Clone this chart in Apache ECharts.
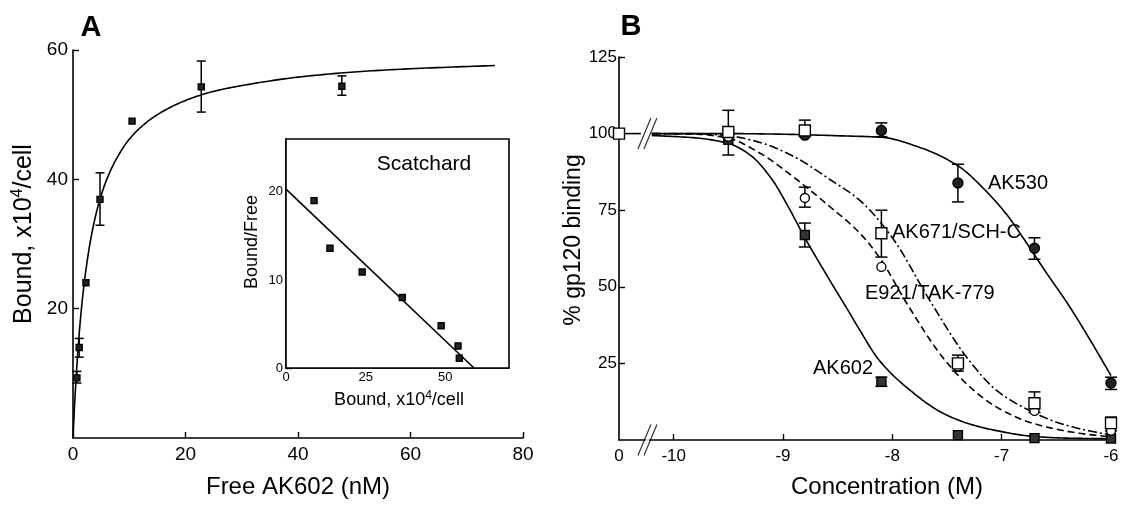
<!DOCTYPE html>
<html><head><meta charset="utf-8">
<script src="https://cdn.jsdelivr.net/npm/echarts@6/dist/echarts.min.js"></script>
<style>html,body{margin:0;padding:0;background:#fff}#c{width:1122px;height:505px}</style>
</head><body><div id="c"></div>
<script>
// ---------- Panel A: saturation binding ----------
const freeA      = [0.7, 1.1, 2.3, 4.8, 10.5, 22.8, 47.8];
const boundA     = [9.3, 14.0, 24.0, 36.9, 49.0, 54.3, 54.4];
const boundA_lo  = [8.5, 12.5, null, 32.9, null, 50.4, 53.0];
const boundA_hi  = [10.3, 15.4, null, 41.0, null, 58.3, 56.0];
const fitFreeA   = [0, 0.25, 0.5, 1, 1.5, 2, 3, 4, 5, 6, 8, 10, 12.5, 15, 20, 25, 30, 40, 50, 60, 75];
const fitBoundA  = [0, 4.6, 8.5, 15, 20, 24, 30, 34.3, 37.5, 40, 43.6, 46.2, 48.4, 50, 52.2, 53.6, 54.5, 55.8, 56.6, 57.1, 57.6];
const ticksAx    = [0, 20, 40, 60, 80];
const ticksAy    = [20, 40, 60];

// ---------- Inset: Scatchard ----------
const scatBound  = [8.8, 13.8, 23.9, 36.5, 48.7, 54.0, 54.4];
const scatRatio  = [19.0, 13.6, 10.9, 8.0, 4.8, 2.5, 1.1];
const scatLineX  = [0, 59];
const scatLineY  = [20.3, 0];
const ticksSx    = [0, 25, 50];
const ticksSy    = [0, 10, 20];

// ---------- Panel B: competition (log M; -10.5 = "0" control) ----------
const logConc    = [-10.5, -9.5, -8.8, -8.1, -7.4, -6.7, -6.0];
const ak602      = [100, 98, 66.9, 19.0, 1.6, 0.6, 0.5];
const ak602_lo   = [null, null, 63.0, 17.5, null, null, null];
const ak602_hi   = [null, null, 70.8, 20.5, null, null, null];
const ak530      = [null, 99, 99.5, 101, 83.9, 62.6, 18.6];
const ak530_lo   = [null, null, null, 99.0, 77.7, 59.0, 16.5];
const ak530_hi   = [null, null, null, 103.5, 90.0, 66.0, 20.5];
const ak671      = [100, 100.5, 101, 67.5, 25.0, 12.0, 5.5];
const ak671_lo   = [null, 93.0, 99.0, 59.7, 22.5, 9.0, 3.0];
const ak671_hi   = [null, 107.6, 104.4, 75.0, 27.7, 15.7, 7.5];
const e921       = [null, 99, 79.0, 56.5, 24.0, 9.5, 3.0];
const e921_lo    = [null, null, 76.0, null, null, null, null];
const e921_hi    = [null, null, 82.5, null, null, null, null];

const fit602X = [-10.2, -9.8, -9.5, -9.3, -9.1, -8.95, -8.8, -8.57, -8.4, -8.3, -8.12, -7.84, -7.54, -7.3, -7.08, -6.72, -6.4, -6.0];
const fit602Y = [99.4, 98.6, 96.8, 93, 85, 76, 66, 52, 42, 36, 26, 16.3, 8.8, 5.3, 3.3, 1.2, 0.6, 0.4];
const fit530X = [-10.2, -9.5, -9.0, -8.5, -8.1, -7.75, -7.4, -7.15, -6.95, -6.81, -6.59, -6.4, -6.19, -6.0];
const fit530Y = [100, 100, 99.8, 99.3, 98.8, 95.5, 89.5, 81.5, 73.4, 66.3, 54.5, 44.7, 32.6, 21];
const fit671X = [-10.2, -9.8, -9.5, -9.2, -8.9, -8.57, -8.3, -8.0, -7.66, -7.32, -7.05, -6.81, -6.47, -6.1, -6.0];
const fit671Y = [100, 100, 99.3, 97, 92.5, 85, 78.3, 66, 45.7, 27, 16.3, 10.8, 5.5, 2.3, 1.8];
const fit921X = [-10.2, -9.8, -9.5, -9.21, -8.91, -8.6, -8.3, -8.12, -7.87, -7.54, -7.29, -7.05, -6.72, -6.31, -6.0];
const fit921Y = [100, 99.8, 98.5, 93.6, 86, 77, 67.6, 59.7, 44.7, 27, 17.3, 10.8, 5.5, 2.3, 1.0];
const leadX = [-10.5, -10.3];
const leadY = [100, 100];
const ticksBx = [-10, -9, -8, -7, -6];
const labelsBx = [-10.5, -10, -9, -8, -7, -6];
const ticksBy = [25, 50, 75, 100, 125];
const BREAK_X = -10.24;

// ---------- helpers ----------
const FONT = '"Liberation Sans", Arial, sans-serif';
const zip = (a, b) => a.map((v, i) => [v, b[i]]).filter(p => p[1] !== null);
const zip3 = (x, lo, hi) => x.map((v, i) => [v, lo[i], hi[i]]).filter(p => p[1] !== null && p[2] !== null);

function errSeries(xi, data, cap) {
  return {
    type: 'custom', xAxisIndex: xi, yAxisIndex: xi, data, silent: true, z: 3,
    encode: { x: 0, y: [1, 2] },
    renderItem(params, api) {
      const x = api.value(0), lo = api.value(1), hi = api.value(2);
      const a = api.coord([x, lo]), b = api.coord([x, hi]);
      const w = cap / 2, st = { stroke: '#000', lineWidth: 1.5 };
      return { type: 'group', children: [
        { type: 'line', shape: { x1: a[0], y1: a[1], x2: b[0], y2: b[1] }, style: st },
        { type: 'line', shape: { x1: a[0] - w, y1: a[1], x2: a[0] + w, y2: a[1] }, style: st },
        { type: 'line', shape: { x1: b[0] - w, y1: b[1], x2: b[0] + w, y2: b[1] }, style: st }
      ]};
    }
  };
}

// Smooth curve through the read points: monotone cubic (Fritsch-Carlson) drawn in pixel space.
function curve(xi, xs, ys, dash, z) {
  return {
    type: 'custom', xAxisIndex: xi, yAxisIndex: xi, data: [[xs[0], ys[0]]], silent: true, z: z || 2, clip: false,
    encode: { x: 0, y: 1 },
    renderItem(params, api) {
      const P = xs.map((x, i) => api.coord([x, ys[i]]));
      const n = P.length;
      let pts = [];
      if (n === 2) {
        pts = P;
      } else {
        const h = [], d = [], m = [];
        for (let i = 0; i < n - 1; i++) { h[i] = P[i + 1][0] - P[i][0]; d[i] = (P[i + 1][1] - P[i][1]) / h[i]; }
        m[0] = d[0]; m[n - 1] = d[n - 2];
        for (let i = 1; i < n - 1; i++) {
          if (d[i - 1] * d[i] <= 0) m[i] = 0;
          else { const w1 = 2 * h[i] + h[i - 1], w2 = h[i] + 2 * h[i - 1]; m[i] = (w1 + w2) / (w1 / d[i - 1] + w2 / d[i]); }
        }
        for (let i = 0; i < n - 1; i++) {
          const steps = 16;
          for (let s = 0; s < (i === n - 2 ? steps + 1 : steps); s++) {
            const t = s / steps, t2 = t * t, t3 = t2 * t;
            const h00 = 2 * t3 - 3 * t2 + 1, h10 = t3 - 2 * t2 + t, h01 = -2 * t3 + 3 * t2, h11 = t3 - t2;
            pts.push([P[i][0] + t * h[i],
              h00 * P[i][1] + h10 * h[i] * m[i] + h01 * P[i + 1][1] + h11 * h[i] * m[i + 1]]);
          }
        }
      }
      return { type: 'polyline', shape: { points: pts },
        style: { fill: null, stroke: '#000', lineWidth: 1.6, lineDash: dash || null, lineCap: 'butt' } };
    }
  };
}
function pts(xi, data, symbol, size, fill, z) {
  return { type: 'scatter', xAxisIndex: xi, yAxisIndex: xi, data, symbol, symbolSize: size, silent: true,
    z: z || 4, clip: false,
    itemStyle: { color: fill, borderColor: '#000', borderWidth: 1.4, opacity: 1 } };
}
function vAxis(grid, min, max, ticks, labels, fontSize, margin, fmt) {
  return {
    type: 'value', gridIndex: grid, min, max,
    axisLine: { show: true, onZero: false, lineStyle: { color: '#000', width: 1.6 } },
    axisTick: { show: true, inside: true, length: 6, customValues: ticks, lineStyle: { color: '#000', width: 1.4 } },
    axisLabel: { color: '#000', fontFamily: FONT, fontSize, margin, customValues: labels, formatter: fmt || undefined },
    splitLine: { show: false }
  };
}

const xAxes = [
  vAxis(0, 0, 80, ticksAx, ticksAx, 19, 7),
  vAxis(1, 0, 70, ticksSx, ticksSx, 13, 3),
  vAxis(2, -10.5, -6, ticksBx, labelsBx, 17, 8, v => (v === -10.5 ? '0' : String(v)))
];
const yAxes = [
  vAxis(0, 0, 60, ticksAy, ticksAy, 19, 5),
  vAxis(1, 0, 26, ticksSy, ticksSy, 13, 3),
  vAxis(2, 0, 125, ticksBy, ticksBy, 17, 2)
];

const series = [
  // Panel A
  curve(0, fitFreeA, fitBoundA),
  errSeries(0, zip3(freeA, boundA_lo, boundA_hi), 9),
  pts(0, zip(freeA, boundA), 'rect', 6, '#222'),
  // Inset
  curve(1, scatLineX, scatLineY, null, 5),
  pts(1, zip(scatBound, scatRatio), 'rect', 6, '#222', 6),
  // Panel B curves
  curve(2, leadX, leadY),
  curve(2, fit602X, fit602Y),
  curve(2, fit530X, fit530Y),
  curve(2, fit671X, fit671Y, [9, 3, 2, 3]),
  curve(2, fit921X, fit921Y, [7, 4]),
  // break marks
  { type: 'scatter', xAxisIndex: 2, yAxisIndex: 2, data: [[BREAK_X, 0], [BREAK_X, 100]], silent: true, z: 5, clip: false,
    symbol: 'path://M0,31 L13,0 L19,0 L6,31 Z', symbolSize: [12, 31], itemStyle: { color: '#fff', borderWidth: 0 } },
  { type: 'scatter', xAxisIndex: 2, yAxisIndex: 2, data: [[BREAK_X, 0], [BREAK_X, 100]], silent: true, z: 6, clip: false,
    symbol: 'path://M0,31 L13,0 M6,31 L19,0', symbolSize: [19, 31],
    itemStyle: { color: 'rgba(0,0,0,0)', borderColor: '#000', borderWidth: 1.4 } },
  // error bars
  errSeries(2, zip3(logConc, ak602_lo, ak602_hi), 12),
  errSeries(2, zip3(logConc, ak530_lo, ak530_hi), 12),
  errSeries(2, zip3(logConc, ak671_lo, ak671_hi), 12),
  errSeries(2, zip3(logConc, e921_lo, e921_hi), 12),
  // markers
  pts(2, zip(logConc, ak602), 'rect', 9, '#333', 4),
  pts(2, zip(logConc, ak530), 'circle', 10, '#222', 4),
  pts(2, zip(logConc, e921), 'circle', 9, '#fff', 5),
  pts(2, zip(logConc, ak671), 'rect', 11, '#fff', 6)
];

function txt(x, y, text, size, opts) {
  opts = opts || {};
  const el = { type: 'text', x, y, z: 100, style: Object.assign({
    text, fill: '#000', font: (opts.bold ? 'bold ' : '') + size + 'px ' + FONT,
    align: 'center', verticalAlign: 'middle' }, opts.style || {}) };
  if (opts.rotation) el.rotation = opts.rotation;
  return el;
}
function supText(x, y, size, supSize, rot) {
  const el = { type: 'text', x, y, z: 100,
    style: { text: '{a|Bound, x10}{s|4}{a|/cell}', align: 'center', verticalAlign: 'middle',
      rich: { a: { fontSize: size, fontFamily: FONT, fill: '#000', color: '#000' },
              s: { fontSize: supSize, fontFamily: FONT, fill: '#000', color: '#000', verticalAlign: 'top', padding: [0, 0, Math.round(size * 0.5), 0] } } } };
  if (rot) el.rotation = rot;
  return el;
}

const graphic = [
  txt(91, 28, 'A', 29, { bold: true }),
  txt(631, 27, 'B', 29, { bold: true }),
  txt(298, 487, 'Free AK602 (nM)', 24),
  txt(887, 487, 'Concentration (M)', 24),
  supText(24, 234, 25, 16, Math.PI / 2),
  txt(574, 240, '% gp120 binding', 23, { rotation: Math.PI / 2 }),
  txt(424, 164, 'Scatchard', 21),
  txt(252, 242, 'Bound/Free', 18, { rotation: Math.PI / 2 }),
  supText(399, 400, 18, 12),
  txt(988, 183, 'AK530', 20, { style: { align: 'left' } }),
  txt(892, 232, 'AK671/SCH-C', 20, { style: { align: 'left' } }),
  txt(865, 293, 'E921/TAK-779', 20, { style: { align: 'left' } }),
  txt(813, 368, 'AK602', 20, { style: { align: 'left' } })
];

const chart = echarts.init(document.getElementById('c'), null, { renderer: 'canvas' });
chart.setOption({
  animation: false,
  backgroundColor: '#fff',
  grid: [
    { left: 73, top: 50, width: 450, height: 388 },
    { left: 286, top: 139, width: 223, height: 229, show: true, borderColor: '#000', borderWidth: 1.6, backgroundColor: '#fff', z: 1 },
    { left: 619, top: 57, width: 492, height: 383 }
  ],
  xAxis: xAxes,
  yAxis: yAxes,
  series,
  graphic
});
</script></body></html>
